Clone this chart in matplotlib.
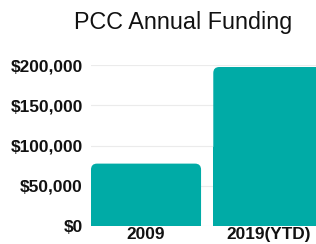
import matplotlib
matplotlib.use("Agg")
import matplotlib.pyplot as plt
from matplotlib.patches import FancyBboxPatch, Rectangle
from matplotlib.ticker import FuncFormatter

categories = ["2009", "2019(YTD)"]
values = [77500, 197500]
yticks = [0, 50000, 100000, 150000, 200000]

color = "#00ABA6"
W, H = 316, 244
fig = plt.figure(figsize=(W / 100, H / 100), dpi=100)
plt.rcParams['font.family'] = ['Liberation Sans', 'DejaVu Sans']

left, right = 91 / W, 1.0
bottom, top = 18 / H, (H - 65) / H
ax = fig.add_axes([left, bottom, right - left, top - bottom])

xlo, xhi = -0.45, 1.39
ymax = 200000
ax.set_xlim(xlo, xhi)
ax.set_ylim(0, ymax)

# pixel scales for rounding
px_per_x = (right - left) * W / (xhi - xlo)
px_per_y = (top - bottom) * H / ymax
r_px = 6
rx = r_px / px_per_x
ry = r_px / px_per_y
aspect = ry / rx

bw = 0.9
for i, v in enumerate(values):
    x0 = i - bw / 2
    p = FancyBboxPatch((x0, 0), bw, v,
                       boxstyle=f"round,pad=0,rounding_size={rx}",
                       mutation_aspect=aspect, fc=color, ec="none", zorder=3)
    ax.add_patch(p)
    ax.add_patch(Rectangle((x0, 0), bw, v / 2, fc=color, ec="none", zorder=3))

ax.set_yticks(yticks)
ax.yaxis.set_major_formatter(FuncFormatter(lambda v, p: f"${int(v):,}"))
ax.set_xticks(range(len(categories)))
ax.set_xticklabels(categories)
for lab in ax.get_yticklabels() + ax.get_xticklabels():
    lab.set_fontweight("bold")
    lab.set_fontsize(12.4)
    lab.set_color("#111111")
ax.tick_params(axis="both", length=0)
ax.tick_params(axis="y", pad=6)
ax.tick_params(axis="x", pad=1)
ax.grid(axis="y", color="#ebebeb", linewidth=0.8, zorder=0)
ax.set_axisbelow(True)
for s in ax.spines.values():
    s.set_visible(False)

fig.text(183 / W, (H - 23) / H, "PCC Annual Funding", ha="center", va="center",
         fontsize=16.8, color="#111111")

fig.savefig("out.png", dpi=100)
